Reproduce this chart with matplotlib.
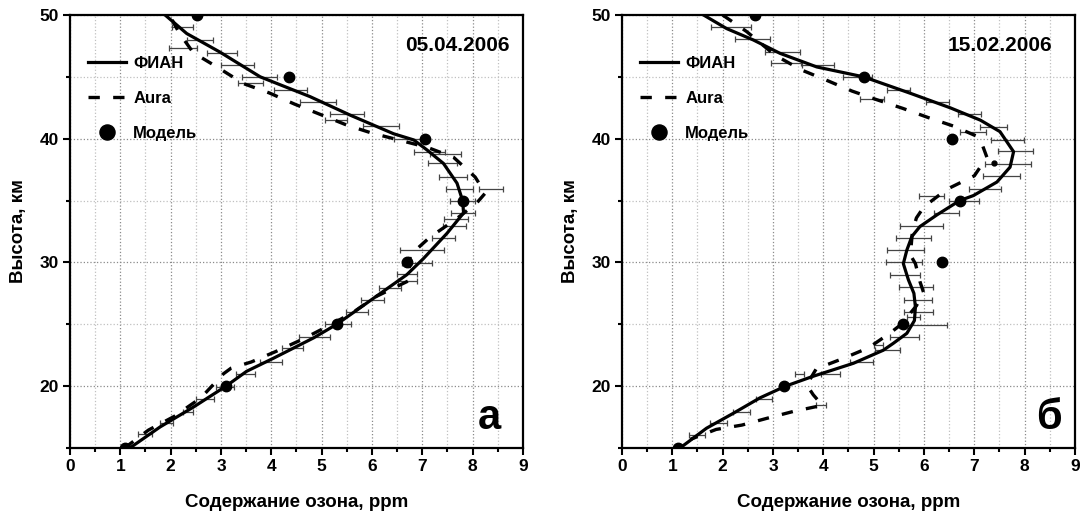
import numpy as np
import matplotlib
matplotlib.use("Agg")
import matplotlib.pyplot as plt
from matplotlib.ticker import MultipleLocator

plt.rcParams["font.family"] = ["Liberation Sans", "DejaVu Sans"]
plt.rcParams["font.weight"] = "bold"
plt.rcParams["axes.labelweight"] = "bold"

# ---- panel a: 05.04.2006 ----
fian_a_x = [1.89, 2.32, 2.98, 3.78, 4.77, 5.57, 6.43, 6.83, 7.09, 7.42, 7.69, 7.80, 7.82,
            7.49, 7.02, 6.69, 6.03, 5.30, 4.84, 4.04, 3.51, 3.10, 2.45, 1.79, 1.19]
fian_a_h = [50.0, 48.5, 47.0, 45.0, 43.4, 41.9, 40.4, 39.9, 39.1, 38.0, 36.4, 35.0, 34.0,
            32.35, 30.3, 29.0, 27.1, 25.0, 23.9, 22.25, 21.2, 20.0, 18.3, 16.7, 15.0]

aura_a_x = [2.03, 2.17, 2.45, 2.92, 3.45, 3.96, 4.46, 4.98, 5.50, 6.00, 6.53, 7.10, 7.62,
            8.05, 8.25, 8.08, 7.67, 7.14, 6.76, 6.72, 6.06, 5.62, 5.15, 4.60, 4.09, 3.60,
            3.20, 3.05, 2.60, 2.07, 1.56, 1.15]
aura_a_h = [49.6, 48.55, 46.95, 45.8, 44.45, 43.7, 42.8, 41.95, 41.1, 40.45, 39.9, 39.3, 38.5,
            36.9, 35.6, 34.8, 33.5, 32.0, 30.6, 28.5, 27.2, 25.95, 24.9, 23.75, 22.8, 21.95,
            21.45, 21.0, 19.05, 17.55, 16.45, 15.2]

model_a_x = [1.10, 3.10, 5.30, 6.70, 7.80, 7.05, 4.36, 2.52]
model_a_h = [15, 20, 25, 30, 35, 40, 45, 50]

err_a_h = [49.05, 48.0, 47.3, 46.95, 45.95, 44.95, 44.5, 43.9, 43.0, 42.0, 41.5, 41.0, 39.95,
           38.95, 38.8, 38.0, 36.9, 35.93, 35.93, 35.0, 34.02, 33.5, 32.94, 32.0, 31.03,
           29.93, 29.03, 28.52, 27.96, 26.95, 25.97, 25.05, 24.0, 23.05, 21.95, 20.97,
           19.95, 19.0, 17.95, 16.99, 16.1]
err_a_lo = [2.02, 2.32, 1.96, 2.72, 3.00, 3.42, 3.33, 4.05, 4.57, 5.16, 5.06, 5.83, 6.43,
            6.84, 7.16, 7.12, 7.34, 7.47, 8.13, 7.55, 7.57, 7.44, 7.41, 7.20, 6.56,
            6.59, 6.49, 6.51, 6.13, 5.79, 5.49, 5.06, 4.55, 4.21, 3.77, 3.29,
            2.91, 2.50, 2.25, 1.79, 1.35]
err_a_hi = [2.45, 2.85, 2.52, 3.31, 3.66, 4.11, 3.83, 4.71, 5.29, 5.85, 5.50, 6.53, 7.06,
            7.46, 7.77, 7.69, 7.88, 8.00, 8.60, 8.05, 8.05, 7.90, 7.87, 7.64, 7.43,
            7.20, 6.90, 6.89, 6.57, 6.23, 5.93, 5.59, 5.16, 4.62, 4.22, 3.68,
            3.25, 2.86, 2.45, 2.05, 1.62]

# ---- panel б: 15.02.2006 ----
fian_b_x = [1.62, 2.08, 2.61, 3.14, 3.87, 4.80, 5.73, 6.52, 7.12, 7.51, 7.78, 7.71, 7.45,
            6.98, 6.71, 6.26, 5.92, 5.76, 5.66, 5.59, 5.69, 5.80, 5.83, 5.81, 5.66, 5.39,
            5.19, 4.60, 3.80, 3.25, 2.74, 2.21, 1.68, 1.22]
fian_b_h = [50.0, 48.9, 47.98, 46.9, 45.8, 45.0, 43.67, 42.5, 41.5, 40.57, 38.95, 37.7, 36.5,
            35.4, 35.0, 33.85, 32.9, 32.1, 31.0, 29.9, 28.6, 27.5, 26.4, 25.3, 24.27, 23.46,
            22.9, 21.85, 20.8, 20.0, 19.05, 17.8, 16.6, 15.2]

aura_b_x = [2.00, 2.48, 3.04, 3.57, 4.05, 4.57, 5.10, 5.58, 6.09, 6.60, 7.05, 7.15, 7.25,
            7.00, 6.45, 6.00, 5.85, 5.77, 5.73, 5.83, 5.92, 5.99, 5.85, 5.55, 5.33, 4.90,
            4.37, 3.86, 3.67, 3.80, 3.98, 3.40, 2.88, 2.38, 1.87, 1.36]
aura_b_h = [50.0, 48.65, 46.75, 45.55, 44.75, 43.85, 43.1, 42.45, 41.7, 41.0, 40.2, 39.6, 38.5,
            37.0, 35.9, 34.5, 33.6, 32.5, 30.6, 29.9, 28.45, 27.6, 26.5, 25.0, 24.3, 23.1,
            22.2, 21.4, 20.1, 19.3, 18.45, 17.95, 17.4, 16.85, 16.5, 15.7]

model_b_x = [1.12, 3.21, 5.59, 6.36, 6.71, 6.55, 4.80, 2.64]
model_b_h = [15, 20, 25, 30, 35, 40, 45, 50]
small_b_x = [7.40]
small_b_h = [38.0]

err_b_h = [49.05, 48.03, 46.97, 46.1, 45.96, 44.96, 43.97, 43.22, 42.95, 41.99, 40.97, 40.53,
           39.93, 38.99, 37.94, 36.97, 35.96, 35.35, 34.98, 33.96, 32.98, 31.97, 31.0, 30.01,
           28.98, 27.99, 26.96, 26.01, 25.6, 24.94, 23.97, 23.32, 22.95, 21.97, 21.0, 21.0,
           18.97, 18.47, 17.92, 16.99, 16.05]
err_b_lo = [1.76, 2.24, 2.84, 2.97, 3.57, 4.40, 5.26, 4.72, 6.05, 6.67, 7.11, 6.71,
            7.33, 7.48, 7.22, 7.17, 6.89, 5.91, 6.49, 6.19, 5.53, 5.45, 5.26, 5.24,
            5.33, 5.50, 5.61, 5.60, 5.66, 5.56, 5.33, 5.00, 5.02, 4.54, 3.95, 3.44,
            2.66, 3.86, 2.21, 1.75, 1.33]
err_b_hi = [2.57, 2.94, 3.54, 3.55, 4.21, 4.96, 5.73, 5.21, 6.49, 7.14, 7.65, 7.24,
            7.98, 8.16, 8.13, 7.90, 7.53, 6.40, 7.10, 6.69, 6.37, 6.14, 6.00, 5.96,
            5.92, 6.17, 6.15, 6.18, 5.92, 6.46, 5.90, 5.18, 5.53, 4.99, 4.33, 3.62,
            2.99, 4.06, 2.54, 2.08, 1.65]


def draw_panel(ax, fx, fh, axx, ah, mx, mh, eh, elo, ehi, date, letter, date_x, letter_x):
    ax.set_xlim(0, 9)
    ax.set_ylim(15, 50)
    ax.xaxis.set_major_locator(MultipleLocator(1))
    ax.xaxis.set_minor_locator(MultipleLocator(0.5))
    ax.yaxis.set_major_locator(MultipleLocator(10))
    ax.yaxis.set_minor_locator(MultipleLocator(5))
    ax.grid(which="major", color="#8a8a8a", ls=":", lw=0.9)
    ax.grid(which="minor", color="#c0c0c0", ls=":", lw=0.9)
    ax.set_axisbelow(True)
    ax.tick_params(which="major", direction="out", length=5, width=1.5, labelsize=12.5, pad=3)
    ax.tick_params(which="minor", direction="out", length=3, width=1.5)
    for sp in ax.spines.values():
        sp.set_linewidth(1.6)

    eh = np.array(eh)
    elo = np.array(elo)
    ehi = np.array(ehi)
    ax.errorbar((elo + ehi) / 2, eh, xerr=(ehi - elo) / 2, fmt="none", ecolor="#454545",
                elinewidth=0.9, capsize=2.3, capthick=0.9, zorder=2)
    ax.plot(fx, fh, color="black", lw=2.3, label="ФИАН", zorder=3)
    ax.plot(axx, ah, color="black", lw=2.4, dashes=(3.4, 4.0), label="Aura", zorder=3)
    ax.plot(mx, mh, "o", color="black", ms=7.5, label="Модель", zorder=4)

    ax.legend(loc="upper left", bbox_to_anchor=(0.04, 0.905), frameon=False,
              fontsize=12, handlelength=2.3, labelspacing=1.2, handletextpad=0.4,
              markerscale=1.45, borderpad=0, borderaxespad=0)
    ax.text(date_x, 0.93, date, transform=ax.transAxes, ha="right", va="center",
            fontsize=15, fontweight="bold")
    ax.text(letter_x, 0.07, letter, transform=ax.transAxes, ha="center", va="center",
            fontsize=30, fontweight="bold")
    ax.set_xlabel("Содержание озона, ppm", fontsize=13.5, labelpad=14)
    ax.set_ylabel("Высота, км", fontsize=13.5, labelpad=9)
    for lab in ax.get_xticklabels() + ax.get_yticklabels():
        lab.set_fontweight("bold")


fig = plt.figure(figsize=(10.83, 5.15), dpi=100)
ax_a = fig.add_axes([0.0646, 0.1301, 0.4183, 0.8408])
ax_b = fig.add_axes([0.5743, 0.1301, 0.4183, 0.8408])

draw_panel(ax_a, fian_a_x, fian_a_h, aura_a_x, aura_a_h, model_a_x, model_a_h,
           err_a_h, err_a_lo, err_a_hi, "05.04.2006", "а", 0.971, 0.925)
draw_panel(ax_b, fian_b_x, fian_b_h, aura_b_x, aura_b_h, model_b_x, model_b_h,
           err_b_h, err_b_lo, err_b_hi, "15.02.2006", "б", 0.949, 0.942)
ax_b.plot(small_b_x, small_b_h, "o", color="black", ms=3.5, zorder=4)

fig.savefig("out.png", dpi=100)
